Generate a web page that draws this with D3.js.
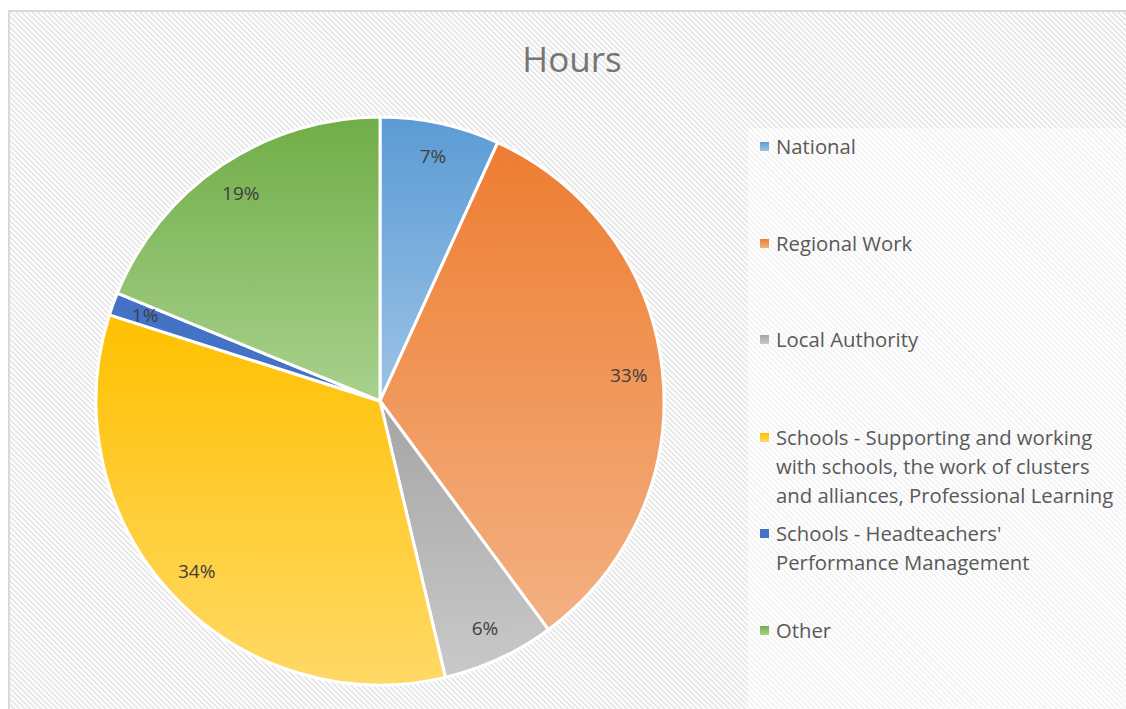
<!DOCTYPE html>
<html>
<head>
<meta charset="utf-8">
<script src="https://cdn.jsdelivr.net/npm/d3@7"></script>
<style>
  body { margin: 0; background: #fff; }
  svg { display: block; }
</style>
</head>
<body>
<div id="chart"></div>
<script>
// data (share of hours, %)
const categories = [
  "National",
  "Regional Work",
  "Local Authority",
  "Schools - Supporting and working with schools, the work of clusters and alliances, Professional Learning",
  "Schools - Headteachers' Performance Management",
  "Other"
];
const values = [6.8, 33.1, 6.4, 33.6, 1.3, 18.8];
const legendLines = [
  ["National"],
  ["Regional Work"],
  ["Local Authority"],
  ["Schools - Supporting and working", "with schools, the work of clusters", "and alliances, Professional Learning"],
  ["Schools - Headteachers'", "Performance Management"],
  ["Other"]
];
const colorsTop = ["#5B9BD5", "#ED7D31", "#A5A5A5", "#FFC000", "#4472C4", "#70AD47"];
const colorsBottom = ["#9DC3E6", "#F4B183", "#C9C9C9", "#FFD966", "#4472C4", "#A9D18E"];

const width = 1126, height = 709;
const svg = d3.select("#chart").append("svg")
  .attr("width", width)
  .attr("height", height);
const defs = svg.append("defs");

// hatched chart background
const hatch = defs.append("pattern")
  .attr("id", "hatch")
  .attr("patternUnits", "userSpaceOnUse")
  .attr("width", 3.8).attr("height", 3.8)
  .attr("patternTransform", "rotate(45)");
hatch.append("rect").attr("width", 3.8).attr("height", 3.8).attr("fill", "#ffffff");
hatch.append("rect").attr("width", 3.8).attr("height", 1.6).attr("fill", "#e3e3e3");

svg.append("rect")
  .attr("x", 9).attr("y", 11)
  .attr("width", width).attr("height", height)
  .attr("fill", "url(#hatch)")
  .attr("stroke", "#d9d9d9")
  .attr("stroke-width", 2);

// lighter legend area
svg.append("rect")
  .attr("x", 748).attr("y", 128)
  .attr("width", width - 748).attr("height", height - 128)
  .attr("fill", "#ffffff")
  .attr("opacity", 0.5);

// title
svg.append("text")
  .attr("x", 572).attr("y", 72)
  .attr("text-anchor", "middle")
  .attr("font-family", "'Open Sans', sans-serif")
  .attr("font-size", 35)
  .attr("fill", "#757575")
  .text("Hours");

// gradients, one per slice
colorsTop.forEach(function(c, i) {
  const g = defs.append("linearGradient")
    .attr("id", "grad" + i)
    .attr("x1", 0).attr("y1", 0).attr("x2", 0).attr("y2", 1);
  g.append("stop").attr("offset", "0%").attr("stop-color", c);
  g.append("stop").attr("offset", "100%").attr("stop-color", colorsBottom[i]);
});

const cx = 380, cy = 401, radius = 284;
const pie = d3.pie().sort(null).value(d => d.value);
const arcs = pie(values.map((v, i) => ({ name: categories[i], value: v, i: i })));
const arc = d3.arc().innerRadius(0).outerRadius(radius);
const labelArc = d3.arc().innerRadius(250).outerRadius(250);
const total = d3.sum(values);

const pieG = svg.append("g").attr("transform", "translate(" + cx + "," + cy + ")");
pieG.selectAll(".slice")
  .data(arcs).enter()
  .append("path")
  .attr("class", "slice")
  .attr("d", arc)
  .attr("fill", d => "url(#grad" + d.data.i + ")")
  .attr("stroke", "#ffffff")
  .attr("stroke-width", 3)
  .attr("stroke-linejoin", "round");

pieG.selectAll(".lbl")
  .data(arcs).enter()
  .append("text")
  .attr("class", "lbl")
  .attr("transform", d => "translate(" + labelArc.centroid(d) + ")")
  .attr("text-anchor", "middle")
  .attr("dy", "0.35em")
  .attr("font-family", "'Open Sans', sans-serif")
  .attr("font-size", 19)
  .attr("fill", "#404040")
  .text(d => Math.round(d.data.value / total * 100) + "%");

// legend
const legendY = [147, 244, 340, 438, 534, 631];
const lineH = 29;
const legend = svg.append("g");
legendLines.forEach(function(lines, i) {
  const y = legendY[i];
  legend.append("rect")
    .attr("x", 760).attr("y", y - 5)
    .attr("width", 9).attr("height", 9)
    .attr("fill", "url(#grad" + i + ")");
  const t = legend.append("text")
    .attr("font-family", "'Open Sans', sans-serif")
    .attr("font-size", 20.3)
    .attr("fill", "#595959");
  lines.forEach(function(line, j) {
    t.append("tspan")
      .attr("x", 776)
      .attr("y", y + j * lineH)
      .attr("dy", "0.35em")
      .text(line);
  });
});
</script>
</body>
</html>
